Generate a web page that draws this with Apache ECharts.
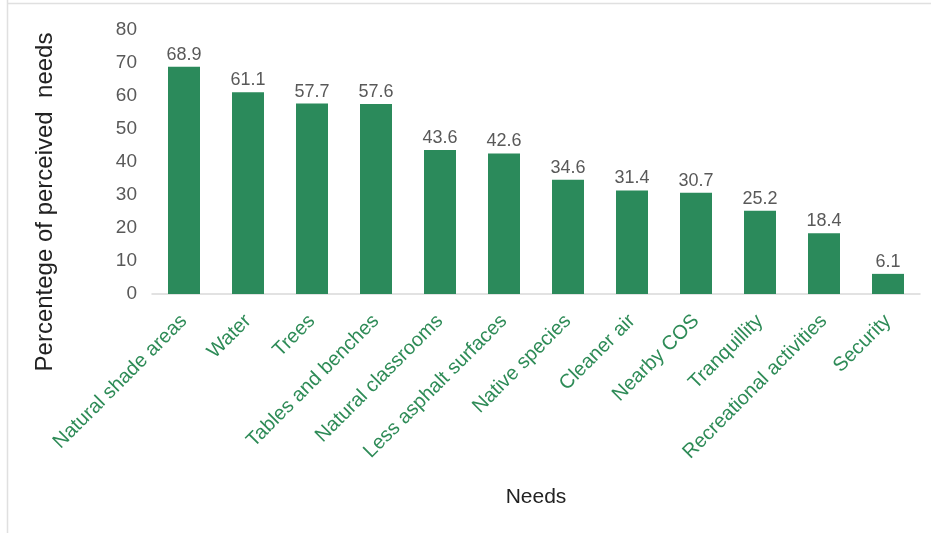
<!DOCTYPE html>
<html><head><meta charset="utf-8">
<script src="https://cdn.jsdelivr.net/npm/echarts@6/dist/echarts.min.js"></script>
<style>html,body{margin:0;padding:0;background:#fff}#c{width:931px;height:533px}</style>
</head><body><div id="c"></div>
<script>
const categories = ["Natural shade areas","Water","Trees","Tables and benches","Natural classrooms","Less asphalt surfaces","Native species","Cleaner air","Nearby COS","Tranquillity","Recreational activities","Security"];
const values = [68.9, 61.1, 57.7, 57.6, 43.6, 42.6, 34.6, 31.4, 30.7, 25.2, 18.4, 6.1];
const yTicks = [0, 80, 10];
const yTitle = "Percentege of perceived  needs";
const xTitle = "Needs";

const chart = echarts.init(document.getElementById('c'), null, {renderer:'canvas'});
const FONT = "'Liberation Sans', Arial, sans-serif";
chart.setOption({
  animation: false,
  backgroundColor: '#fff',
  grid: {left: 152, right: 11, top: 30, bottom: 239},
  xAxis: {
    type: 'category', data: categories,
    axisLine: {lineStyle: {color: '#d9d9d9', width: 1.5}},
    axisTick: {show: false},
    axisLabel: {rotate: 45, interval: 0, margin: 24, color: '#2e8b57', fontSize: 20, fontFamily: FONT}
  },
  yAxis: {
    type: 'value', min: yTicks[0], max: yTicks[1], interval: yTicks[2],
    axisLine: {show: false}, axisTick: {show: false}, splitLine: {show: false},
    axisLabel: {margin: 15, color: '#595959', fontSize: 19, fontFamily: FONT}
  },
  series: [{
    type: 'bar', data: values, barCategoryGap: '50%',
    itemStyle: {color: '#2b8a5b'},
    label: {show: true, position: 'top', distance: 3, color: '#595959', fontSize: 18, fontFamily: FONT}
  }],
  graphic: [
    {type: 'line', shape: {x1: 7.5, y1: 0, x2: 7.5, y2: 533}, style: {stroke: '#e0e0e0', lineWidth: 1.5}},
    {type: 'line', shape: {x1: 7, y1: 3.5, x2: 931, y2: 3.5}, style: {stroke: '#e0e0e0', lineWidth: 1.5}},
    {type: 'text', x: 45, y: 202, rotation: Math.PI/2,
     style: {text: yTitle, fill: '#222', font: "24px " + FONT, textAlign: 'center', textVerticalAlign: 'middle'}},
    {type: 'text', x: 536, y: 497,
     style: {text: xTitle, fill: '#222', font: "21px " + FONT, textAlign: 'center', textVerticalAlign: 'middle'}}
  ]
});
</script></body></html>
